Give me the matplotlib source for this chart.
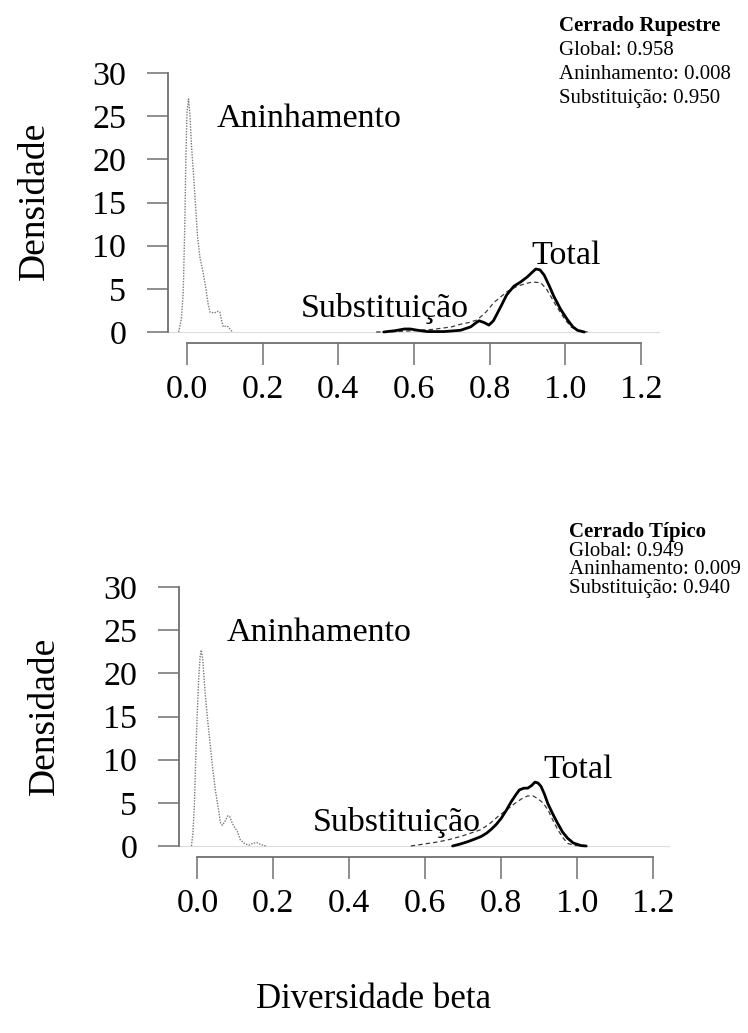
import matplotlib
matplotlib.use("Agg")
import matplotlib.pyplot as plt

plt.rcParams['font.family'] = ['Liberation Serif', 'DejaVu Serif']

# --- data (density curves) ---
# Cerrado Rupestre
rup_ani_x = [-0.022, -0.015, -0.010, -0.006, -0.003, 0.000, 0.004, 0.008, 0.012, 0.017, 0.022,
             0.028, 0.034, 0.043, 0.050, 0.056, 0.061, 0.072, 0.082, 0.087, 0.092, 0.096,
             0.103, 0.109, 0.116, 0.122]
rup_ani_y = [0.0, 1.5, 4.5, 12.0, 20.0, 25.5, 27.0, 25.0, 21.5, 18.4, 15.0,
             11.0, 8.7, 6.8, 5.0, 3.2, 2.3, 2.2, 2.4, 2.3, 1.2, 0.6,
             0.7, 0.6, 0.2, 0.0]
rup_sub_x = [0.50, 0.55, 0.60, 0.65, 0.70, 0.723, 0.745, 0.767, 0.79, 0.811, 0.83, 0.847,
             0.873, 0.895, 0.913, 0.935, 0.95, 0.962, 0.975, 0.988, 1.0, 1.015, 1.035, 1.059]
rup_sub_y = [0.0, 0.05, 0.15, 0.3, 0.6, 0.9, 1.1, 1.4, 2.3, 3.4, 4.1, 4.7,
             5.3, 5.6, 5.8, 5.7, 5.0, 4.1, 3.1, 2.2, 1.4, 0.6, 0.15, 0.0]
rup_tot_x = [0.52, 0.55, 0.575, 0.59, 0.61, 0.635, 0.68, 0.723, 0.75, 0.765, 0.772, 0.785,
             0.798, 0.81, 0.829, 0.845, 0.864, 0.882, 0.90, 0.912, 0.922, 0.933, 0.944,
             0.957, 0.97, 0.988, 1.006, 1.02, 1.032, 1.05]
rup_tot_y = [0.0, 0.15, 0.35, 0.35, 0.2, 0.05, 0.05, 0.2, 0.6, 1.1, 1.3, 1.1,
             0.8, 1.3, 2.9, 4.3, 5.3, 5.8, 6.4, 6.9, 7.3, 7.2, 6.6,
             5.4, 4.1, 2.6, 1.4, 0.6, 0.2, 0.0]

# Cerrado Tipico
tip_ani_x = [-0.016, -0.012, -0.008, -0.005, -0.001, 0.003, 0.007, 0.010, 0.014, 0.018, 0.021,
             0.027, 0.034, 0.040, 0.047, 0.055, 0.061, 0.066, 0.073, 0.080, 0.085, 0.092,
             0.100, 0.105, 0.113, 0.125, 0.135, 0.145, 0.156, 0.165, 0.180]
tip_ani_y = [0.0, 1.5, 5.0, 9.6, 15.0, 19.2, 22.0, 22.7, 21.5, 19.0, 17.3,
             14.5, 11.5, 9.0, 6.5, 4.3, 2.6, 2.4, 2.9, 3.5, 3.4, 2.6,
             2.0, 1.7, 0.7, 0.25, 0.1, 0.3, 0.4, 0.2, 0.0]
tip_sub_x = [0.562, 0.60, 0.63, 0.659, 0.70, 0.747, 0.77, 0.791, 0.815, 0.835, 0.855, 0.87,
             0.884, 0.896, 0.91, 0.923, 0.936, 0.949, 0.962, 0.975, 0.995, 1.028]
tip_sub_y = [0.0, 0.25, 0.45, 0.7, 1.2, 1.9, 2.6, 3.4, 4.2, 4.9, 5.5, 5.8,
             5.8, 5.5, 5.0, 4.2, 3.0, 1.9, 1.0, 0.3, 0.05, 0.0]
tip_tot_x = [0.672, 0.69, 0.712, 0.73, 0.747, 0.762, 0.773, 0.787, 0.80, 0.813, 0.826, 0.838,
             0.848, 0.86, 0.87, 0.88, 0.889, 0.897, 0.905, 0.914, 0.923, 0.936, 0.949,
             0.962, 0.975, 0.99, 1.01, 1.024]
tip_tot_y = [0.0, 0.2, 0.5, 0.8, 1.1, 1.5, 1.9, 2.5, 3.2, 4.1, 5.1, 5.9,
             6.5, 6.7, 6.7, 7.0, 7.4, 7.3, 6.9, 6.0, 4.9, 3.7, 2.6,
             1.6, 0.9, 0.35, 0.05, 0.0]

yticks = [0, 5, 10, 15, 20, 25, 30]
xticks = [0.0, 0.2, 0.4, 0.6, 0.8, 1.0, 1.2]
xticklabels = ["0.0", "0.2", "0.4", "0.6", "0.8", "1.0", "1.2"]

rup_title = "Cerrado Rupestre"
rup_stats = ["Global: 0.958", "Aninhamento: 0.008", "Substituição: 0.950"]
tip_title = "Cerrado Típico"
tip_stats = ["Global: 0.949", "Aninhamento: 0.009", "Substituição: 0.940"]

W, H = 748, 1033
fig = plt.figure(figsize=(W / 100, H / 100), dpi=100)

AX_GRAY = "#707070"


def px_rect(left, top, right, bottom):
    return [left / W, 1 - bottom / H, (right - left) / W, (bottom - top) / H]


def panel(rect, xlim, ylim, ani, sub, tot):
    ax = fig.add_axes(rect)
    ax.set_xlim(*xlim)
    ax.set_ylim(*ylim)
    ax.axhline(0, color="#dcdcdc", lw=0.8, zorder=0)
    ax.plot(ani[0], ani[1], color="#7a7a7a", lw=1.0, ls=(0, (1, 1)))
    ax.plot(sub[0], sub[1], color="#3a3a3a", lw=0.9, ls=(0, (3.5, 2.5)))
    ax.plot(tot[0], tot[1], color="black", lw=2.0, solid_capstyle="round")
    for s in ("top", "right"):
        ax.spines[s].set_visible(False)
    ax.spines["left"].set_bounds(0, 30)
    ax.spines["bottom"].set_bounds(0, 1.2)
    for s in ("left", "bottom"):
        ax.spines[s].set_color(AX_GRAY)
        ax.spines[s].set_linewidth(1.3)
    ax.set_yticks(yticks)
    ax.set_yticklabels([str(v) for v in yticks])
    ax.set_xticks(xticks)
    ax.set_xticklabels(xticklabels)
    ax.tick_params(axis="y", length=15, width=1.1, color=AX_GRAY, pad=15, labelsize=24.5)
    ax.tick_params(axis="x", length=16, width=1.1, color=AX_GRAY, pad=7, labelsize=24.5)
    ax.text(0.078, 23.8, "Aninhamento", fontsize=24.5, ha="left", va="baseline")
    ax.text(0.745, 1.75, "Substituição", fontsize=24.5, ha="right", va="baseline")
    ax.text(0.911, 7.9, "Total", fontsize=24.5, ha="left", va="baseline")
    return ax


# top panel: y axis at px 168, x=0 at px 187, x=1.2 at px 641, y=0 at px 332, y=30 at px 73
panel(px_rect(168, 65, 660, 343), (-0.0502, 1.2503), (-1.274, 30.93),
      (rup_ani_x, rup_ani_y), (rup_sub_x, rup_sub_y), (rup_tot_x, rup_tot_y))
# bottom panel
panel(px_rect(179, 579, 670, 857), (-0.0487, 1.2447), (-1.274, 30.93),
      (tip_ani_x, tip_ani_y), (tip_sub_x, tip_sub_y), (tip_tot_x, tip_tot_y))

fig.text(35 / W, 1 - 201 / H, "Densidade", rotation=90, fontsize=27, ha="center", va="center")
fig.text(45 / W, 1 - 716 / H, "Densidade", rotation=90, fontsize=27, ha="center", va="center")
fig.text(374 / W, 1 - 1000 / H, "Diversidade beta", fontsize=25, ha="center", va="center")

# statistics boxes
fig.text(559 / W, 1 - 31 / H, rup_title, fontsize=15, fontweight="bold", va="baseline")
for i, line in enumerate(rup_stats):
    fig.text(559 / W, 1 - (55 + 24 * i) / H, line, fontsize=15, va="baseline")
fig.text(569 / W, 1 - 537 / H, tip_title, fontsize=15, fontweight="bold", va="baseline")
for i, line in enumerate(tip_stats):
    fig.text(569 / W, 1 - (556 + 18.5 * i) / H, line, fontsize=15, va="baseline")

fig.savefig("out.png", dpi=100)
